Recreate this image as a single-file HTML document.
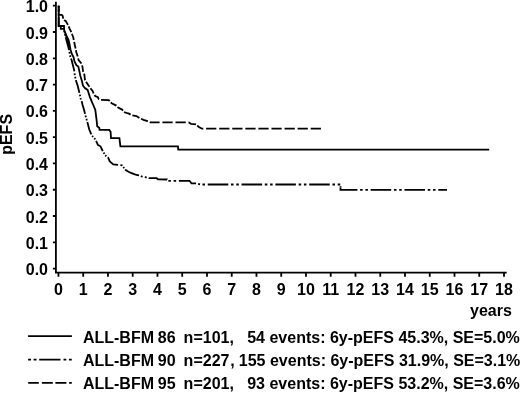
<!DOCTYPE html>
<html><head><meta charset="utf-8"><style>
html,body{margin:0;padding:0;background:#fff;width:520px;height:393px;overflow:hidden}
svg{display:block;will-change:transform}
text{font-family:"Liberation Sans",sans-serif;font-weight:bold;font-size:16px;fill:#000}
</style></head><body>
<svg width="520" height="393" viewBox="0 0 520 393">
<path d="M55.9,1.8 V272.7 H506.7" fill="none" stroke="#000" stroke-width="1.8"/>
<path d="M52.9,5.70 H55.9 M52.9,31.99 H55.9 M52.9,58.28 H55.9 M52.9,84.57 H55.9 M52.9,110.86 H55.9 M52.9,137.15 H55.9 M52.9,163.44 H55.9 M52.9,189.73 H55.9 M52.9,216.02 H55.9 M52.9,242.31 H55.9 M52.9,268.60 H55.9 M58.45,272.7 V276.8 M83.20,272.7 V276.8 M107.96,272.7 V276.8 M132.71,272.7 V276.8 M157.46,272.7 V276.8 M182.22,272.7 V276.8 M206.97,272.7 V276.8 M231.72,272.7 V276.8 M256.47,272.7 V276.8 M281.23,272.7 V276.8 M305.98,272.7 V276.8 M330.73,272.7 V276.8 M355.49,272.7 V276.8 M380.24,272.7 V276.8 M404.99,272.7 V276.8 M429.75,272.7 V276.8 M454.50,272.7 V276.8 M479.25,272.7 V276.8 M504.00,272.7 V276.8" fill="none" stroke="#000" stroke-width="1.8"/>
<text x="48" y="12.30" text-anchor="end">1.0</text>
<text x="48" y="38.59" text-anchor="end">0.9</text>
<text x="48" y="64.88" text-anchor="end">0.8</text>
<text x="48" y="91.17" text-anchor="end">0.7</text>
<text x="48" y="117.46" text-anchor="end">0.6</text>
<text x="48" y="143.75" text-anchor="end">0.5</text>
<text x="48" y="170.04" text-anchor="end">0.4</text>
<text x="48" y="196.33" text-anchor="end">0.3</text>
<text x="48" y="222.62" text-anchor="end">0.2</text>
<text x="48" y="248.91" text-anchor="end">0.1</text>
<text x="48" y="275.20" text-anchor="end">0.0</text>
<text x="58.45" y="295.2" text-anchor="middle">0</text>
<text x="83.20" y="295.2" text-anchor="middle">1</text>
<text x="107.96" y="295.2" text-anchor="middle">2</text>
<text x="132.71" y="295.2" text-anchor="middle">3</text>
<text x="157.46" y="295.2" text-anchor="middle">4</text>
<text x="182.22" y="295.2" text-anchor="middle">5</text>
<text x="206.97" y="295.2" text-anchor="middle">6</text>
<text x="231.72" y="295.2" text-anchor="middle">7</text>
<text x="256.47" y="295.2" text-anchor="middle">8</text>
<text x="281.23" y="295.2" text-anchor="middle">9</text>
<text x="305.98" y="295.2" text-anchor="middle">10</text>
<text x="330.73" y="295.2" text-anchor="middle">11</text>
<text x="355.49" y="295.2" text-anchor="middle">12</text>
<text x="380.24" y="295.2" text-anchor="middle">13</text>
<text x="404.99" y="295.2" text-anchor="middle">14</text>
<text x="429.75" y="295.2" text-anchor="middle">15</text>
<text x="454.50" y="295.2" text-anchor="middle">16</text>
<text x="479.25" y="295.2" text-anchor="middle">17</text>
<text x="504.00" y="295.2" text-anchor="middle">18</text>
<text x="470" y="316.4">years</text>
<text transform="translate(11.8,134.4) rotate(-90)" text-anchor="middle">pEFS</text>
<path d="M63.90,30.00 L65.20,35.40 L66.40,40.00 L67.90,45.40 L69.10,50.00 L70.60,50.00 L69.80,45.40 L68.60,40.00 L66.30,35.40 L64.20,30.00 Z" fill="#000"/>
<path d="M58.70,5.70 L58.70,26.00 L64.00,26.00 L64.10,29.00 L64.20,30.00 L66.30,35.40 L68.60,40.00 L69.80,45.40 L70.60,50.00 L71.80,54.00 L73.50,57.00 L74.50,61.40 L76.40,65.20 L78.30,66.50 L79.30,70.90 L80.20,75.40 L81.90,81.10 L83.00,85.70 L84.90,88.00 L87.60,89.90 L88.70,93.30 L89.90,97.10 L91.80,101.70 L93.30,105.00 L95.30,110.00 L96.60,120.20 L97.20,126.20 L99.20,127.80 L99.60,129.90 L109.30,129.90 L110.60,131.80 L111.00,138.10 L119.40,138.10 L120.40,146.40 L178.00,146.40 L178.20,149.60 L489.20,149.60" fill="none" stroke="#000" stroke-width="1.8"/>
<path d="M58.70,5.70 L58.70,12.26 M58.70,14.39 L58.70,14.80 L61.70,14.80 L62.60,15.70 L63.24,18.64 M64.28,19.96 L64.50,20.20 L65.80,21.10 L67.10,23.40 L67.97,24.88 M68.70,26.41 L69.40,28.30 L70.70,30.80 L71.26,32.17 M71.91,33.77 L73.20,37.20 L73.82,40.02 M74.18,41.83 L74.70,44.50 L75.40,47.70 L75.56,48.48 M75.92,50.29 L76.30,52.20 L77.60,56.00 L77.74,56.57 M78.18,58.37 L78.60,60.10 L81.20,63.30 L81.33,63.65 M81.95,65.31 L82.40,66.50 L83.10,71.50 L83.29,71.96 M83.94,73.56 L84.40,74.70 L84.90,79.60 L85.24,80.24 M86.05,81.75 L86.50,82.60 L89.49,86.82 M90.46,88.21 L92.60,91.00 L93.62,93.50 M94.52,94.95 L95.20,96.00 L97.90,97.10 L98.70,99.00 L99.14,99.15 M101.05,99.80 L108.80,100.20 L109.62,101.07 M110.78,102.32 L111.70,103.30 L116.30,105.60 L116.42,105.73 M117.60,106.98 L118.10,107.50 L122.10,109.60 L123.06,110.56 M124.25,111.75 L125.00,112.50 L129.00,113.70 L130.62,114.65 M132.36,115.46 L136.50,116.00 L139.36,117.88 M141.04,118.75 L143.50,119.80 L147.50,121.20 L147.83,121.33 M149.71,122.04 L150.40,122.30 L159.60,122.30 M162.40,122.30 L172.65,122.30 M175.50,122.30 L185.75,122.30 M188.55,122.30 L188.70,122.30 L191.00,123.80 L196.03,124.38 M197.31,125.51 L198.50,126.70 L201.90,128.70 L203.30,128.70 M206.10,128.70 L216.35,128.70 M219.20,128.70 L229.45,128.70 M232.25,128.70 L242.50,128.70 M245.35,128.70 L255.60,128.70 M258.40,128.70 L268.65,128.70 M271.45,128.70 L281.70,128.70 M284.55,128.70 L294.80,128.70 M297.60,128.70 L307.85,128.70 M310.70,128.70 L320.95,128.70" fill="none" stroke="#000" stroke-width="1.8"/>
<path d="M58.70,5.70 L58.70,7.38 M58.70,9.42 L58.70,11.32 M58.70,13.34 L58.70,15.27 M58.70,17.28 L58.70,26.00 L60.80,26.00 L60.80,28.90 L63.60,28.90 L63.62,28.96 M64.06,30.66 L64.45,32.27 M64.86,33.98 L65.25,35.59 M65.69,37.30 L66.40,40.00 L67.90,45.40 L69.10,50.00 L69.11,50.07 M69.39,51.90 L69.64,53.63 M69.96,55.40 L70.47,56.92 M71.05,58.54 L71.60,60.10 L74.20,70.30 L74.32,71.44 M74.52,73.31 L74.70,75.00 L74.71,75.06 M75.12,76.81 L75.49,78.43 M75.88,80.15 L76.10,81.10 L77.70,85.70 L79.42,92.84 M79.85,94.57 L80.20,96.20 M80.55,97.95 L80.70,98.70 L81.00,99.55 M81.57,101.16 L81.90,102.10 L82.60,105.00 L84.10,110.00 L85.05,113.87 M85.48,115.60 L85.91,117.17 M86.41,118.85 L86.87,120.41 M87.33,122.07 L89.20,129.30 L91.30,134.43 M92.13,135.86 L93.17,136.99 M94.27,138.18 L95.32,139.30 M96.08,140.78 L98.00,145.00 L100.50,146.30 L102.50,150.50 L102.82,151.08 M103.64,152.52 L104.39,153.86 M105.19,155.27 L106.38,156.28 M107.68,157.37 L108.20,157.80 L109.80,161.40 L113.30,164.40 L117.90,164.90 L118.07,164.92 M120.42,165.21 L122.00,165.40 L122.26,165.72 M123.29,167.00 L124.26,168.20 M125.31,169.44 L125.80,170.00 L128.10,171.50 L130.40,172.70 L133.50,173.80 L136.50,175.00 L139.08,175.38 M140.84,176.11 L141.50,176.40 L142.67,176.64 M144.81,177.08 L145.40,177.20 L146.69,177.58 M148.62,178.15 L148.80,178.20 L156.50,178.20 L158.10,179.30 L167.00,179.50 L167.08,179.70 M168.35,180.80 L170.90,180.80 M173.60,180.80 L176.15,180.80 M178.90,180.80 L189.50,180.80 L191.50,183.30 L196.10,183.30 M198.11,183.83 L200.05,184.28 M202.45,184.50 L205.00,184.50 M207.75,184.50 L228.30,184.50 M231.00,184.50 L233.55,184.50 M236.30,184.50 L238.85,184.50 M241.55,184.50 L262.10,184.50 M264.80,184.50 L267.35,184.50 M270.10,184.50 L272.65,184.50 M275.35,184.50 L295.90,184.50 M298.65,184.50 L301.20,184.50 M303.90,184.50 L306.45,184.50 M309.15,184.50 L329.70,184.50 M332.45,184.50 L335.00,184.50 M337.70,184.50 L340.25,184.50 M340.50,186.36 L340.50,187.00 M340.50,187.18 L340.50,189.90 L357.40,189.90 M360.10,189.90 L362.65,189.90 M365.40,189.90 L367.95,189.90 M370.65,189.90 L391.20,189.90 M393.95,189.90 L396.50,189.90 M399.20,189.90 L401.75,189.90 M404.45,189.90 L425.00,189.90 M427.75,189.90 L430.30,189.90 M433.00,189.90 L435.55,189.90 M438.30,189.90 L447.00,189.90" fill="none" stroke="#000" stroke-width="1.8"/>
<path d="M28.1,336.2 H71.9" stroke="#000" stroke-width="1.8"/>
<path d="M28.1,359.7 H31 M33.6,359.7 H36.5 M39.2,359.7 H60.5 M63.5,359.7 H66.3 M68.9,359.7 H71.8" stroke="#000" stroke-width="1.8"/>
<path d="M28.2,382.9 H38.8 M41.9,382.9 H52.8 M55.4,382.9 H66.4 M69.1,382.9 H71.8" stroke="#000" stroke-width="1.8"/>
<text x="82.9" y="342.6" xml:space="preserve">ALL-BFM <tspan dx="-0.6">86</tspan>&#160; <tspan dx="-0.9">n=101,</tspan>&#160;&#160; 54 events: 6y-pEFS 45.3%, SE=5.0%</text>
<text x="82.9" y="366" xml:space="preserve">ALL-BFM <tspan dx="-0.6">90</tspan>&#160; <tspan dx="-0.9">n=227</tspan><tspan dx="0.7">,</tspan><tspan dx="-0.2"> 155</tspan> events: 6y-pEFS 31.9%, SE=3.1%</text>
<text x="82.9" y="389.4" xml:space="preserve">ALL-BFM <tspan dx="-0.6">95</tspan>&#160; <tspan dx="-0.9">n=201,</tspan>&#160;&#160; 93 events: 6y-pEFS 53.2%, SE=3.6%</text>
</svg>
</body></html>
